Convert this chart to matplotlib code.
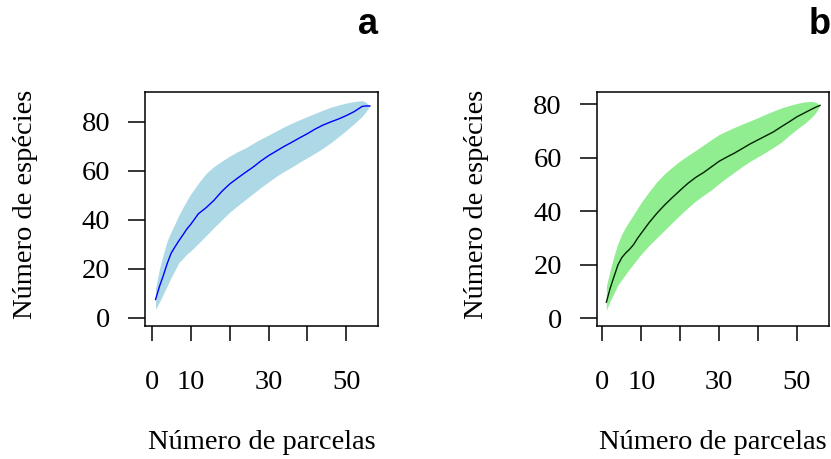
import matplotlib
matplotlib.use("Agg")
import matplotlib.pyplot as plt

# ---- data ----
sites = [1, 2, 3, 4, 5, 6, 7, 8, 9, 10, 12, 14, 16, 18, 20, 22, 24, 26, 28, 30, 32, 34,
         36, 38, 40, 42, 44, 46, 48, 50, 52, 54, 55, 56]

mean_a = [7.5, 12.8, 17.3, 22.2, 26.4, 29, 31.5, 33.8, 36.2, 38.1, 42.5, 45, 48, 51.6,
          54.6, 57, 59.3, 61.5, 64, 66.2, 68.1, 70, 71.7, 73.5, 75.2, 77.1, 78.7, 80,
          81.2, 82.6, 84.2, 86.3, 86.5, 86.5]
upper_a = [12, 20, 26, 31.5, 35.2, 38.5, 42, 45, 47.8, 50.5, 55, 59, 61.8, 64, 66, 67.8,
           69.3, 71.2, 73, 74.6, 76.3, 78, 79.5, 80.9, 82.2, 83.5, 84.8, 86, 86.9, 87.7,
           88.3, 88.7, 88, 86.5]
lower_a = [3.5, 6.5, 9.8, 13, 16.5, 19.5, 22.6, 24.2, 26, 27.3, 30.4, 33.6, 36.9, 40,
           43.1, 45.7, 48.2, 50.7, 53.2, 55.5, 57.8, 59.8, 61.6, 63.6, 65.4, 67.3, 69.3,
           71.5, 74, 76.6, 79.3, 82.2, 84.2, 86.5]

mean_b = [6, 11.3, 15.7, 20, 22.7, 24.4, 25.8, 27.5, 29.8, 31.8, 35.7, 39.2, 42.3, 45.1,
          47.8, 50.4, 52.6, 54.4, 56.5, 58.6, 60.2, 61.7, 63.4, 65.1, 66.6, 68.1, 69.6,
          71.5, 73.3, 75.2, 76.7, 78.2, 78.9, 79.5]
upper_b = [12, 18, 23.5, 28, 31.5, 34.2, 36.5, 38.7, 41, 43.3, 47.3, 51, 54, 56.5, 58.8,
           60.8, 62.7, 64.7, 66.7, 68.6, 70, 71.3, 72.5, 73.7, 74.9, 76.2, 77.4, 78.5,
           79.4, 80.2, 80.8, 81, 80.6, 79.5]
lower_b = [3, 6.5, 9.5, 12.5, 14.5, 16.5, 18.5, 20.3, 22.2, 24, 27.2, 30.1, 32.9, 35.8,
           38.6, 41.3, 43.8, 45.9, 47.9, 50.3, 52.5, 54.6, 56.7, 58.6, 60.3, 62, 63.8,
           65.7, 68.2, 70.6, 72.7, 75.3, 77, 79.5]

xticks = [0, 10, 20, 30, 40, 50]
xticklabels = ["0", "10", "", "30", "", "50"]
yticks_a = [0, 20, 40, 60, 80]
yticks_b = [0, 20, 40, 60, 80]

serif = ["Liberation Serif", "DejaVu Serif"]

fig = plt.figure(figsize=(8.31, 4.59), dpi=100)

def panel(rect, mean, up, lo, band, line, xlim, ylim, yticks, letter, letter_x):
    ax = fig.add_axes(rect)
    ax.fill_between(sites, lo, up, color=band, linewidth=0)
    ax.plot(sites, mean, color=line, linewidth=1.0)
    ax.set_xlim(*xlim)
    ax.set_ylim(*ylim)
    ax.set_xticks(xticks)
    ax.set_xticklabels(xticklabels)
    ax.set_yticks(yticks)
    for sp in ax.spines.values():
        sp.set_linewidth(1.1)
    ax.tick_params(axis="x", length=11, width=1.1, pad=21, labelsize=20.5)
    ax.tick_params(axis="y", length=12, width=1.1, pad=13, labelsize=20.5)
    for lab in ax.get_xticklabels() + ax.get_yticklabels():
        lab.set_family(serif)
    ax.text(0.5, -0.5, "Número de parcelas", transform=ax.transAxes, ha="center",
            va="center", fontsize=20.5, family=serif)
    ax.text(-0.515, 0.52, "Número de espécies", transform=ax.transAxes, ha="center",
            va="center", fontsize=20.5, family=serif, rotation=90)
    fig.text(letter_x / 831, 1 - 25 / 459, letter, ha="center", va="center",
             fontsize=26, fontweight="bold", family=["Liberation Sans", "DejaVu Sans"])
    return ax

panel([0.1745, 0.2898, 0.2804, 0.5098], mean_a, upper_a, lower_a, "#ADD8E6", "blue",
      (-1.7, 58.1), (-3.3, 92.2), yticks_a, "a", 368)
panel([0.718, 0.2898, 0.2796, 0.5098], mean_b, upper_b, lower_b, "#90EE90", "#002200",
      (-1.5, 58.3), (-2.9, 84.5), yticks_b, "b", 820)

fig.savefig("out.png", dpi=100)
